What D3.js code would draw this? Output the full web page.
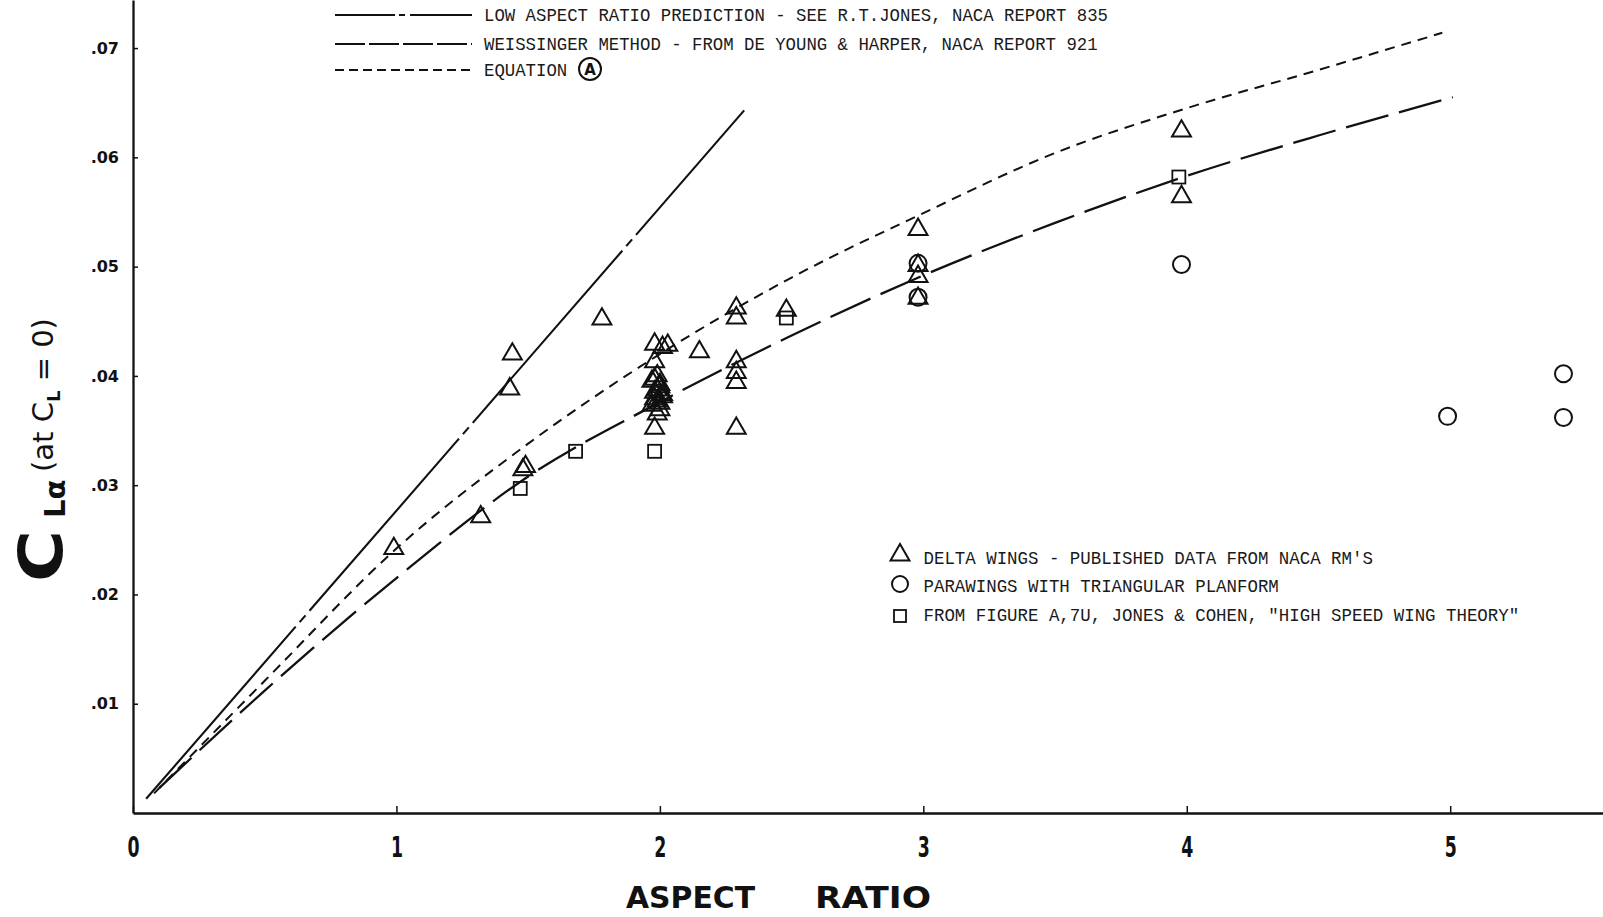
<!DOCTYPE html>
<html>
<head>
<meta charset="utf-8">
<script src="https://cdn.jsdelivr.net/npm/d3@7"></script>
<style>
  html, body { margin: 0; padding: 0; background: #fff; }
  svg { display: block; }
  .mono { font-family: "Liberation Mono", "Courier New", monospace; fill: #1a1a1a; }
</style>
</head>
<body>
<svg id="chart" width="1603" height="917"></svg>
<script>
// ---- data -------------------------------------------------------------
const xTicks = [0, 1, 2, 3, 4, 5];
const yTicks = [0.01, 0.02, 0.03, 0.04, 0.05, 0.06, 0.07];

// Low aspect ratio prediction (R.T. Jones) – straight line
const jonesAR = [0.05, 2.32];
const jonesCL = [0.0013, 0.0643];

// Weissinger method (De Young & Harper)
const weissAR = [0.10, 0.5, 1.0, 1.5, 2.0, 2.5, 3.0, 3.5, 4.0, 4.5, 5.01];
const weissCL = [0.0023, 0.0112, 0.0215, 0.0308, 0.0376, 0.0437, 0.0492, 0.0540, 0.0583, 0.0620, 0.0655];

// Equation (A)
const eqAR = [0.08, 0.5, 1.0, 1.5, 2.0, 2.5, 3.0, 3.5, 4.0, 4.5, 4.97];
const eqCL = [0.0018, 0.0121, 0.0242, 0.0338, 0.0420, 0.0490, 0.0549, 0.0604, 0.0645, 0.0680, 0.0714];

// Delta wings – published data from NACA RM's
const deltaAR = [0.99, 1.32, 1.44, 1.43, 1.48, 1.49, 1.78,
                 1.98, 2.01, 2.03, 1.98, 1.99, 1.97, 2.00, 1.98, 2.01, 1.99, 1.97, 2.00, 1.99,
                 1.98, 2.00, 1.99, 2.01, 1.98, 2.00, 1.98,
                 2.15, 2.29, 2.29, 2.29, 2.29, 2.29, 2.29, 2.48,
                 2.98, 2.98, 2.98, 2.98, 3.98, 3.98];
const deltaCL = [0.0242, 0.0271, 0.0420, 0.0388, 0.0314, 0.0317, 0.0452,
                 0.0429, 0.0426, 0.0428, 0.0413, 0.0400, 0.0395, 0.0390, 0.0385, 0.0381, 0.0377, 0.0373, 0.0369, 0.0365,
                 0.0397, 0.0392, 0.0387, 0.0383, 0.0379, 0.0375, 0.0352,
                 0.0422, 0.0462, 0.0453, 0.0413, 0.0403, 0.0394, 0.0352, 0.0460,
                 0.0534, 0.0501, 0.0491, 0.0471, 0.0624, 0.0564];

// Parawings with triangular planform
const paraAR = [2.98, 2.98, 3.98, 4.99, 5.43, 5.43];
const paraCL = [0.0503, 0.0472, 0.0502, 0.0363, 0.0402, 0.0362];

// From figure A,7U, Jones & Cohen
const jcAR = [1.47, 1.68, 1.98, 2.48, 3.97];
const jcCL = [0.0297, 0.0331, 0.0331, 0.0453, 0.0582];

const lineLegend = [
  "LOW ASPECT RATIO PREDICTION - SEE R.T.JONES, NACA REPORT 835",
  "WEISSINGER METHOD - FROM DE YOUNG & HARPER, NACA REPORT 921",
  "EQUATION"
];
const markLegend = [
  "DELTA WINGS - PUBLISHED DATA FROM NACA RM'S",
  "PARAWINGS WITH TRIANGULAR PLANFORM",
  "FROM FIGURE A,7U, JONES & COHEN, \"HIGH SPEED WING THEORY\""
];

// ---- scales -----------------------------------------------------------
const ink = "#111";
const svg = d3.select("#chart");
const x = d3.scaleLinear().domain([0, 5.58]).range([133, 1603]);
const y = d3.scaleLinear().domain([0, 0.0744]).range([813, 0]);

// ---- axes -------------------------------------------------------------
const yAxis = svg.append("g")
  .attr("transform", `translate(${x(0)},0)`)
  .call(d3.axisLeft(y).tickValues(yTicks).tickSize(-5).tickSizeOuter(0).tickPadding(14)
    .tickFormat(d => d3.format(".2f")(d).replace(/^0/, "")));
yAxis.select(".domain").attr("stroke", ink).attr("stroke-width", 2.3);
yAxis.selectAll(".tick line").attr("stroke", ink).attr("stroke-width", 1.5);
yAxis.selectAll(".tick text")
  .attr("fill", ink)
  .style("font-family", "'DejaVu Sans', sans-serif")
  .style("font-weight", "bold")
  .style("font-size", "16px");

const xAxis = svg.append("g")
  .attr("transform", `translate(0,${y(0)})`)
  .call(d3.axisBottom(x).tickValues(xTicks).tickSize(-7).tickSizeOuter(0).tickFormat(d3.format("d")));
xAxis.select(".domain").attr("stroke", ink).attr("stroke-width", 2.3);
xAxis.selectAll(".tick line").attr("stroke", ink).attr("stroke-width", 1.5);
xAxis.selectAll(".tick text")
  .attr("fill", ink)
  .attr("y", 44).attr("dy", 0)
  .attr("transform", "scale(0.62,1)")
  .style("font-family", "'DejaVu Sans', sans-serif")
  .style("font-weight", "bold")
  .style("font-size", "28px");

// x axis title
const xt = svg.append("g")
  .style("font-family", "'DejaVu Sans Condensed', 'DejaVu Sans', sans-serif")
  .style("font-weight", "bold")
  .style("font-size", "30px")
  .attr("fill", ink);
xt.append("text").attr("x", 626).attr("y", 908).attr("textLength", 129).attr("lengthAdjust", "spacingAndGlyphs").text("ASPECT");
xt.append("text").attr("x", 815).attr("y", 908).attr("textLength", 116).attr("lengthAdjust", "spacingAndGlyphs").text("RATIO");

// y axis title, rotated: C (large), subscript L-alpha, then "(at C_L = 0)"
const yt = svg.append("g")
  .attr("transform", "translate(62,582) rotate(-90)")
  .attr("fill", ink)
  .style("font-family", "'DejaVu Sans', sans-serif");
yt.append("text").attr("transform", "scale(1.18,1)")
  .style("font-size", "60px").style("font-weight", "bold").text("C");
yt.append("text").attr("x", 64).attr("y", 3)
  .style("font-size", "29px").style("font-weight", "bold").text("L\u03b1");
const ytRest = yt.append("text").attr("x", 110).attr("y", -9).style("font-size", "29px");
ytRest.append("tspan").text("(at  C");
ytRest.append("tspan").attr("dy", 7).style("font-size", "18px").style("font-weight", "bold").text("L");
ytRest.append("tspan").attr("dy", -7).text(" = 0)");

// ---- curves -----------------------------------------------------------
const zip = (a, b) => a.map((v, i) => [v, b[i]]);
const straight = d3.line().x(d => x(d[0])).y(d => y(d[1]));
const smooth = d3.line().x(d => x(d[0])).y(d => y(d[1])).curve(d3.curveMonotoneX);

svg.append("path").attr("d", straight(zip(jonesAR, jonesCL)))
  .attr("fill", "none").attr("stroke", ink).attr("stroke-width", 2.1)
  .attr("stroke-dasharray", "228,6,9,6");
svg.append("path").attr("d", smooth(zip(weissAR, weissCL)))
  .attr("fill", "none").attr("stroke", ink).attr("stroke-width", 2.3)
  .attr("stroke-dasharray", "44,11");
svg.append("path").attr("d", smooth(zip(eqAR, eqCL)))
  .attr("fill", "none").attr("stroke", ink).attr("stroke-width", 2)
  .attr("stroke-dasharray", "10,7");

// ---- markers ----------------------------------------------------------
const tri = d3.symbol().type(d3.symbolTriangle).size(155);
svg.append("g").selectAll("path").data(zip(deltaAR, deltaCL)).join("path")
  .attr("d", tri)
  .attr("transform", d => `translate(${x(d[0])},${y(d[1])})`)
  .attr("fill", "none").attr("stroke", ink).attr("stroke-width", 2);

svg.append("g").selectAll("circle").data(zip(paraAR, paraCL)).join("circle")
  .attr("cx", d => x(d[0])).attr("cy", d => y(d[1])).attr("r", 8.5)
  .attr("fill", "none").attr("stroke", ink).attr("stroke-width", 2);

svg.append("g").selectAll("rect").data(zip(jcAR, jcCL)).join("rect")
  .attr("x", d => x(d[0]) - 6.5).attr("y", d => y(d[1]) - 6.5)
  .attr("width", 13).attr("height", 13)
  .attr("fill", "none").attr("stroke", ink).attr("stroke-width", 1.8);

// ---- line legend (top) -------------------------------------------------
const lineDash = ["60,4,6,5,80", "30,4", "9,5"];
const lineRows = [15, 44, 70];
lineRows.forEach((ry, i) => {
  svg.append("line").attr("x1", 335).attr("x2", 472).attr("y1", ry).attr("y2", ry)
    .attr("stroke", ink).attr("stroke-width", 2).attr("stroke-dasharray", lineDash[i]);
  svg.append("text").attr("class", "mono")
    .attr("x", 484).attr("y", ry + 6)
    .attr("textLength", lineLegend[i].length * 10.4).attr("lengthAdjust", "spacingAndGlyphs")
    .style("font-size", "19px")
    .text(lineLegend[i]);
});
svg.append("circle").attr("cx", 590).attr("cy", 69).attr("r", 11)
  .attr("fill", "none").attr("stroke", ink).attr("stroke-width", 2);
svg.append("text").attr("x", 590).attr("y", 74.5).attr("text-anchor", "middle")
  .attr("fill", ink)
  .style("font-family", "'DejaVu Sans', sans-serif").style("font-weight", "bold").style("font-size", "15px")
  .text("A");

// ---- marker legend (bottom right) --------------------------------------
const markRows = [558, 586, 615];
svg.append("path").attr("d", tri).attr("transform", `translate(900,${markRows[0] - 3})`)
  .attr("fill", "none").attr("stroke", ink).attr("stroke-width", 2);
svg.append("circle").attr("cx", 900).attr("cy", markRows[1] - 2).attr("r", 8)
  .attr("fill", "none").attr("stroke", ink).attr("stroke-width", 2);
svg.append("rect").attr("x", 894).attr("y", markRows[2] - 5).attr("width", 12).attr("height", 12)
  .attr("fill", "none").attr("stroke", ink).attr("stroke-width", 1.8);
markRows.forEach((ry, i) => {
  svg.append("text").attr("class", "mono")
    .attr("x", 923.5).attr("y", ry + 6)
    .attr("textLength", markLegend[i].length * 10.45).attr("lengthAdjust", "spacingAndGlyphs")
    .style("font-size", "19px")
    .text(markLegend[i]);
});
</script>
</body>
</html>
